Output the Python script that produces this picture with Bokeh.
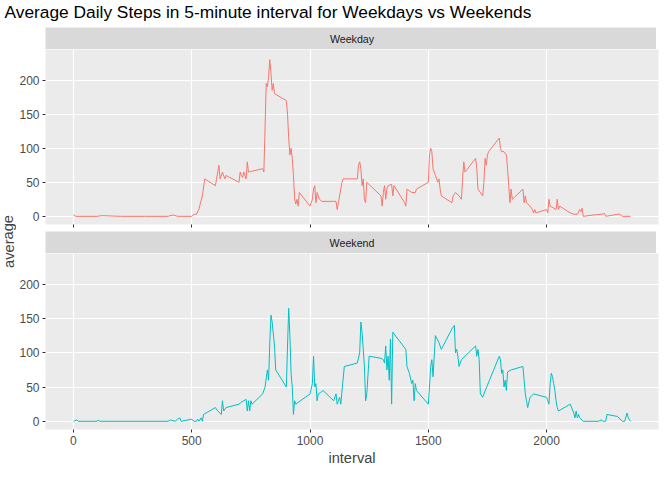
from bokeh.plotting import figure
from bokeh.models import Title, Range1d, Label
from bokeh.layouts import column, row
from bokeh.embed import file_html
from bokeh.resources import INLINE

wd_interval = [0,10,100,120,200,300,400,420,440,500,510,520,530,545,555,600,605,610,615,620,630,640,645,700,705,710,715,720,730,735,740,800,805,810,815,820,825,830,835,840,845,850,900,905,910,915,920,925,930,935,940,945,950,955,1000,1010,1015,1020,1025,1030,1035,1040,1050,1100,1110,1115,1120,1130,1135,1140,1200,1205,1210,1215,1220,1225,1230,1235,1240,1300,1305,1310,1315,1320,1325,1330,1345,1350,1355,1400,1405,1410,1430,1445,1450,1500,1505,1510,1515,1520,1530,1540,1545,1550,1555,1600,1605,1615,1630,1640,1645,1650,1655,1700,1705,1710,1730,1735,1740,1745,1750,1755,1800,1805,1810,1820,1830,1835,1840,1845,1850,1855,1900,1905,1910,1915,1930,1940,1945,1950,1955,2000,2005,2010,2015,2030,2040,2045,2050,2055,2100,2115,2130,2140,2145,2150,2155,2200,2230,2245,2250,2300,2310,2320,2355]
wd_average = [2,0,0,1,0,0,0,2,0,0,3,3,10,30,55,45,55,65,75,55,65,55,60,50,65,60,57,65,55,80,65,70,65,130,195,190,205,230,210,185,195,180,170,150,115,90,100,85,60,25,18,25,15,35,15,25,40,45,20,35,30,25,22,22,22,10,20,40,50,55,55,75,80,70,45,55,25,20,50,30,15,35,45,25,40,45,47,30,45,20,15,40,35,35,40,50,90,100,95,70,60,50,55,40,30,20,30,35,30,25,55,80,65,85,70,40,30,50,85,75,90,95,115,100,95,95,90,70,45,20,40,25,40,20,30,20,15,10,5,10,5,10,5,25,15,12,10,25,10,15,5,3,3,10,7,12,0,2,3,4,0,3,3,0,0]

we_interval = [0,15,20,100,105,110,400,410,430,440,450,455,500,510,520,525,530,540,545,550,600,610,625,630,635,645,700,710,730,735,740,745,750,755,800,810,820,825,830,835,840,850,855,900,905,910,915,920,925,930,935,940,1000,1010,1015,1020,1025,1030,1035,1045,1055,1100,1110,1115,1120,1125,1130,1145,1200,1210,1215,1220,1230,1235,1240,1250,1300,1310,1315,1320,1325,1330,1335,1340,1345,1350,1405,1410,1420,1430,1435,1440,1445,1450,1500,1505,1510,1515,1520,1530,1545,1555,1600,1610,1615,1620,1625,1630,1640,1700,1705,1710,1715,1720,1730,1735,1800,1805,1810,1815,1820,1825,1830,1835,1850,1900,1905,1910,1915,1920,1930,1945,2000,2010,2015,2020,2025,2030,2035,2040,2045,2050,2100,2115,2120,2125,2130,2135,2140,2155,2200,2220,2230,2240,2250,2255,2300,2320,2330,2340,2345,2355]
we_average = [0,2,0,0,2,0,0,2,0,3,5,0,3,0,0,3,0,5,0,10,20,15,10,30,15,20,25,28,32,15,30,15,30,25,40,50,75,60,115,155,145,110,75,50,110,165,125,70,50,10,30,25,40,55,95,50,55,30,40,42,45,30,40,25,30,35,25,80,85,100,145,130,80,30,40,95,92,90,85,110,75,95,60,120,25,130,105,80,70,55,60,30,55,45,25,50,80,90,65,125,115,105,135,140,100,105,95,80,90,110,95,105,90,40,35,40,95,90,70,75,50,60,45,72,75,80,60,40,30,20,35,40,35,25,55,70,65,55,45,30,20,15,25,12,5,15,5,10,5,0,0,0,2,0,0,10,7,0,0,12,5,0]

BG = "#ebebeb"
AX = "#4d4d4d"
FW = 613
LB = 26
FONT = "Liberation Sans"


def blank(height, fill, width=FW, left=LB):
    f = figure(frame_width=width, frame_height=height, output_backend="svg", toolbar_location=None,
               x_range=Range1d(0, 1), y_range=Range1d(0, 1), background_fill_color=fill,
               border_fill_color="white", min_border_left=left, min_border_right=1,
               min_border_top=0, min_border_bottom=0)
    f.axis.visible = False
    f.grid.visible = False
    f.outline_line_color = None
    return f


def strip(label):
    s = blank(22, "#d9d9d9")
    s.add_layout(Label(x=FW / 2, y=11, x_units="screen", y_units="screen", text=label,
                       text_align="center", text_baseline="middle", text_font_size="8pt",
                       text_color="#1a1a1a", text_font=FONT))
    return s


def panel(xs, ys, color, height, bottom=False):
    p = figure(frame_width=FW, frame_height=height, output_backend="svg", toolbar_location=None,
               x_range=Range1d(-118, 2473), y_range=Range1d(-12, 245),
               background_fill_color=BG, border_fill_color="white",
               min_border_left=LB, min_border_right=1, min_border_top=0, min_border_bottom=0)
    p.outline_line_color = None
    p.line(xs, ys, line_color=color, line_width=1)
    p.xaxis.ticker = [0, 500, 1000, 1500, 2000]
    p.yaxis.ticker = [0, 50, 100, 150, 200]
    for a in (p.xaxis, p.yaxis):
        a.axis_line_color = None
        a.major_tick_line_color = "#333333"
        a.major_tick_out = 3
        a.major_tick_in = 0
        a.minor_tick_line_color = None
        a.major_label_text_color = AX
        a.major_label_text_font_size = "9pt"
        a.major_label_text_font = FONT
        a.major_label_standoff = 3
    if not bottom:
        p.xaxis.major_label_text_font_size = "0pt"
        p.xaxis.major_label_standoff = 0
        p.min_border_bottom = 7
    else:
        p.xaxis.axis_label = "interval"
        p.xaxis.axis_label_text_font_style = "normal"
        p.xaxis.axis_label_text_font_size = "11pt"
        p.xaxis.axis_label_text_font = FONT
        p.xaxis.axis_label_standoff = 2
    p.grid.grid_line_color = "white"
    p.grid.grid_line_width = 1.2
    p.xgrid.minor_grid_line_color = "white"
    p.ygrid.minor_grid_line_color = "white"
    p.grid.minor_grid_line_width = 0.6
    p.xaxis.ticker.num_minor_ticks = 2
    p.yaxis.ticker.num_minor_ticks = 2
    return p


head = blank(27, "white", width=FW + LB + 16, left=0)
head.add_layout(Label(x=4, y=6, x_units="screen", y_units="screen",
                      text="Average Daily Steps in 5-minute interval for Weekdays vs Weekends",
                      text_font_size="13pt", text_font=FONT, text_color="black"))

p1 = panel(wd_interval, wd_average, "#f8766d", 175)
p2 = panel(we_interval, we_average, "#00bfc4", 176, bottom=True)
body = column(strip("Weekday"), p1, strip("Weekend"), p2, spacing=0)

lab = blank(429, "white", width=16, left=0)
lab.min_border_right = 0
lab.add_layout(Label(x=8, y=215, x_units="screen", y_units="screen", text="average",
                     angle=1.5708, text_align="center", text_baseline="middle",
                     text_font_size="11pt", text_font=FONT))

p = column(head, row(lab, body, spacing=0), spacing=0)
open("out.html", "w").write(file_html(p, INLINE))
